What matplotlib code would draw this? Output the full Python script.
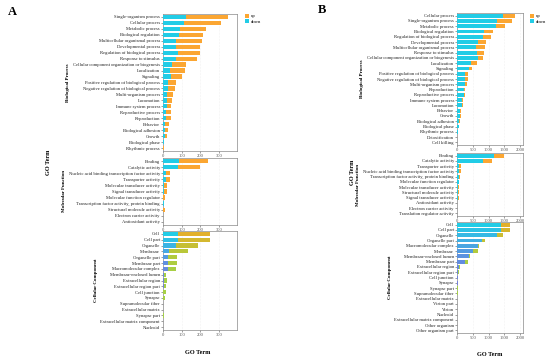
import numpy as np
import matplotlib.pyplot as plt
from matplotlib.colors import LinearSegmentedColormap

# ---- panel A data (counts: down / up) ----
a_bp_terms = ['Single-organism process', 'Cellular process', 'Metabolic process',
              'Biological regulation', 'Multicellular organismal process',
              'Developmental process', 'Regulation of biological process',
              'Response to stimulus', 'Cellular component organization or biogenesis',
              'Localization', 'Signaling', 'Positive regulation of biological process',
              'Negative regulation of biological process', 'Multi-organism process',
              'Locomotion', 'Immune system process', 'Reproductive process',
              'Reproduction', 'Behavior', 'Biological adhesion', 'Growth',
              'Biological phase', 'Rhythmic process']
a_bp_down = [123, 112, 93, 86, 70, 71, 80, 70, 50, 39, 41, 25, 25, 21, 21, 20, 18, 14, 12, 9, 9, 5, 1]
a_bp_up = [222, 197, 139, 128, 139, 125, 118, 109, 73, 79, 59, 43, 37, 31, 29, 25, 23, 27, 20, 16, 12, 2, 3]

a_mf_terms = ['Binding', 'Catalytic activity',
              'Nucleic acid binding transcription factor activity',
              'Transporter activity', 'Molecular transducer activity',
              'Signal transducer activity', 'Molecular function regulator',
              'Transcription factor activity, protein binding',
              'Structural molecule activity', 'Electron carrier activity',
              'Antioxidant activity']
a_mf_down = [86, 82, 14, 14, 7, 5, 2, 4, 2, 0.5, 0.5]
a_mf_up = [152, 114, 24, 24, 16, 15, 9, 1, 7, 0.5, 0.5]

a_cc_terms = ['Cell', 'Cell part', 'Organelle', 'Membrane', 'Organelle part',
              'Membrane part', 'Macromolecular complex', 'Membrane-enclosed lumen',
              'Extracellular region', 'Extracellular region part', 'Cell junction',
              'Synapse', 'Supramolecular fiber', 'Extracellular matrix',
              'Synapse part', 'Extracellular matrix component', 'Nucleoid']
a_cc_down = [82, 80, 68, 34, 29, 29, 27, 3, 3, 3, 2, 2, 1, 1, 1, 0.5, 0.5]
a_cc_up = [170, 172, 120, 98, 48, 48, 41, 12, 17, 15, 14, 7, 1, 1, 3, 0.5, 0.5]

# ---- panel B data ----
b_bp_terms = ['Cellular process', 'Single-organism process', 'Metabolic process',
              'Biological regulation', 'Regulation of biological process',
              'Developmental process', 'Multicellular organismal process',
              'Response to stimulus', 'Cellular component organization or biogenesis',
              'Localization', 'Signaling', 'Positive regulation of biological process',
              'Negative regulation of biological process', 'Multi-organism process',
              'Reproduction', 'Reproductive process', 'Immune system process',
              'Locomotion', 'Behavior', 'Growth', 'Biological adhesion',
              'Biological phase', 'Rhythmic process', 'Detoxification', 'Cell killing']
b_bp_down = [1442, 1263, 1232, 863, 821, 674, 600, 642, 663, 453, 368, 263, 263, 263,
             211, 211, 158, 158, 105, 105, 63, 53, 21, 4, 4]
b_bp_up = [390, 463, 294, 274, 253, 252, 274, 221, 148, 179, 106, 84, 74, 63,
           52, 52, 31, 31, 32, 21, 42, 10, 5, 1, 1]

b_mf_terms = ['Binding', 'Catalytic activity', 'Transporter activity',
              'Nucleic acid binding transcription factor activity',
              'Transcription factor activity, protein binding',
              'Molecular function regulator', 'Molecular transducer activity',
              'Structural molecule activity', 'Signal transducer activity',
              'Antioxidant activity', 'Electron carrier activity',
              'Translation regulator activity']
b_mf_down = [1179, 821, 74, 74, 53, 53, 21, 32, 21, 6, 6, 4]
b_mf_up = [305, 284, 42, 42, 31, 21, 42, 21, 32, 2, 2, 1]

b_cc_terms = ['Cell', 'Cell part', 'Organelle', 'Organelle part',
              'Macromolecular complex', 'Membrane', 'Membrane-enclosed lumen',
              'Membrane part', 'Extracellular region', 'Extracellular region part',
              'Cell junction', 'Synapse', 'Synapse part', 'Supramolecular fiber',
              'Extracellular matrix', 'Virion part', 'Virion', 'Nucleoid',
              'Extracellular matrix component', 'Other organism', 'Other organism part']
b_cc_down = [1400, 1400, 1253, 789, 653, 516, 368, 263, 53, 32, 21, 20, 15, 15, 10,
             5, 5, 5, 5, 3, 3]
b_cc_up = [284, 284, 200, 85, 52, 137, 43, 74, 31, 31, 21, 10, 10, 5, 5,
           1, 1, 1, 1, 1, 1]

up_color = '#FBA632'
down_color = '#22CCE6'

plt.rcParams['font.family'] = 'Liberation Serif'

W, H = 550, 362
fig = plt.figure(figsize=(W / 100, H / 100), dpi=100)


def box(left, top, right, bottom):
    return [left / W, 1 - bottom / H, (right - left) / W, (bottom - top) / H]


def panel(rect, terms, down, up, xmax, ticks, name, gradient=False):
    ax = fig.add_axes(rect)
    y = np.arange(len(terms))
    n = len(terms)
    if gradient:
        dmap = LinearSegmentedColormap.from_list('d', ['#22CCE6', '#5f8fe0', '#7a7ad8'])
        umap = LinearSegmentedColormap.from_list('u', ['#E2B02A', '#b6c83a', '#a6d046'])
        dc = [dmap(i / max(n - 1, 1) * 1.6 if i / max(n - 1, 1) * 1.6 < 1 else 1.0) for i in y]
        uc = [umap(min(i / max(n - 1, 1) * 2.5, 1.0)) for i in y]
    else:
        dc = down_color
        uc = up_color
    ax.barh(y, down, height=0.72, color=dc, label='down', zorder=3)
    ax.barh(y, up, left=down, height=0.72, color=uc, label='up', zorder=3)
    ax.set_yticks(y)
    ax.set_yticklabels(terms, fontsize=3.3)
    ax.set_ylim(n - 0.5, -0.5)
    ax.set_xlim(0, xmax)
    ax.set_xticks(ticks)
    ax.set_xticklabels([str(t) for t in ticks], fontsize=3.3, color='#444444')
    ax.tick_params(axis='both', length=1.2, width=0.4, pad=1, colors='#555555')
    ax.tick_params(axis='y', labelcolor='#222222')
    ax.grid(axis='x', color='#e6e6e6', linewidth=0.4, linestyle=':', zorder=0)
    for s in ax.spines.values():
        s.set_linewidth(0.5)
        s.set_color('#888888')
    ax.set_ylabel(name, fontsize=3.6, fontweight='bold', labelpad=2)
    return ax


# panel A
axA = panel(box(163, 14, 237, 151), a_bp_terms, a_bp_down, a_bp_up, 395,
            [0, 100, 200, 300], 'Biological Process')
panel(box(163, 158, 237, 225), a_mf_terms, a_mf_down, a_mf_up, 395,
      [0, 100, 200, 300], 'Molecular Function')
panel(box(163, 231, 237, 330), a_cc_terms, a_cc_down, a_cc_up, 395,
      [0, 100, 200, 300], 'Cellular Component', gradient=True)

# panel B
axB = panel(box(457, 13, 523, 145), b_bp_terms, b_bp_down, b_bp_up, 2090,
            [0, 500, 1000, 1500, 2000], 'Biological Process')
panel(box(457, 153, 523, 216), b_mf_terms, b_mf_down, b_mf_up, 2090,
      [0, 500, 1000, 1500, 2000], 'Molecular Function')
panel(box(457, 222, 523, 333), b_cc_terms, b_cc_down, b_cc_up, 2090,
      [0, 500, 1000, 1500, 2000], 'Cellular Component', gradient=True)

# legends
for ax, x0 in [(axA, 245 / W), (axB, 530 / W)]:
    h, l = ax.get_legend_handles_labels()
    fig.legend(h[::-1], l[::-1], loc='upper left', bbox_to_anchor=(x0, 1 - 14 / H),
               fontsize=3.3, frameon=False, handlelength=0.9, handleheight=0.9,
               handletextpad=0.3, labelspacing=0.2, borderaxespad=0, borderpad=0)

# panel letters and shared labels
fig.text(8 / W, 1 - 12 / H, 'A', fontsize=9, fontweight='bold', va='center')
fig.text(318 / W, 1 - 10 / H, 'B', fontsize=9, fontweight='bold', va='center')
fig.text(48 / W, 1 - 162 / H, 'GO Term', fontsize=4.5, fontweight='bold',
         rotation=90, va='center', ha='center')
fig.text(352 / W, 1 - 172 / H, 'GO Term', fontsize=4.5, fontweight='bold',
         rotation=90, va='center', ha='center')
fig.text(198 / W, 1 - 353 / H, 'GO Term', fontsize=4.5, fontweight='bold',
         va='center', ha='center')
fig.text(490 / W, 1 - 355 / H, 'GO Term', fontsize=4.5, fontweight='bold',
         va='center', ha='center')

fig.savefig('out.png', dpi=100)
